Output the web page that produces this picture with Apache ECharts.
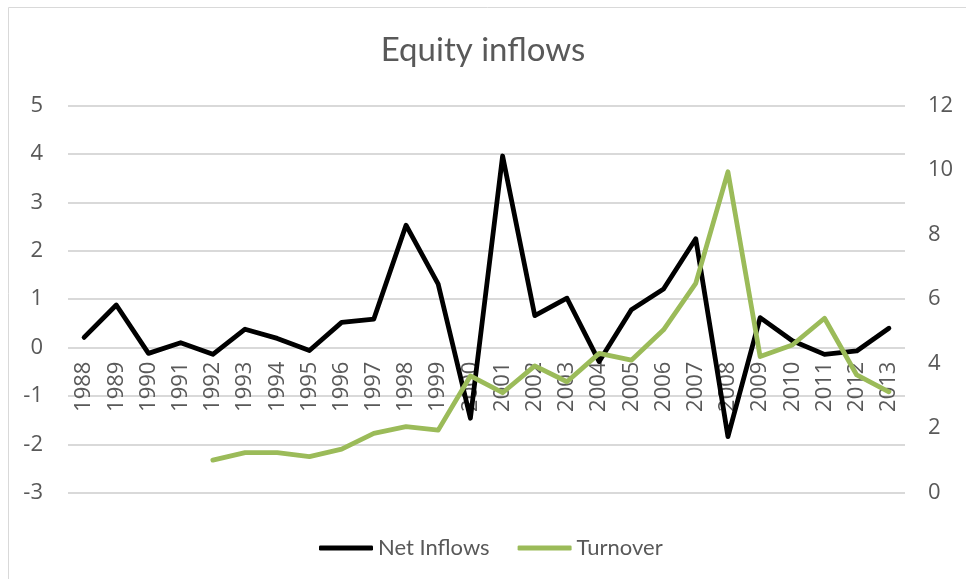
<!DOCTYPE html>
<html>
<head>
<meta charset="utf-8">
<title>Equity inflows</title>
<script src="https://cdn.jsdelivr.net/npm/echarts@6/dist/echarts.min.js"></script>
<style>
  html, body { margin: 0; padding: 0; background: #fff; }
  #chart { width: 966px; height: 579px; }
</style>
</head>
<body>
<div id="chart"></div>
<script>
  // 数据
  var years = ['1988', '1989', '1990', '1991', '1992', '1993', '1994', '1995', '1996', '1997',
    '1998', '1999', '2000', '2001', '2002', '2003', '2004', '2005', '2006', '2007',
    '2008', '2009', '2010', '2011', '2012', '2013']
  var netInflows = [0.21, 0.88, -0.12, 0.10, -0.14, 0.38, 0.19, -0.06, 0.52, 0.59,
    2.53, 1.31, -1.46, 3.96, 0.66, 1.02, -0.29, 0.78, 1.21, 2.25,
    -1.84, 0.62, 0.14, -0.14, -0.07, 0.40]
  var turnover = [null, null, null, null, 1.01, 1.24, 1.24, 1.12, 1.35, 1.84,
    2.05, 1.94, 3.62, 3.10, 3.93, 3.44, 4.32, 4.11, 5.05, 6.49,
    9.95, 4.22, 4.58, 5.41, 3.65, 3.13]

  var font = 'Lato, "Open Sans", sans-serif'
  var tickFont = '"Open Sans", Lato, sans-serif'
  var grey = '#595959'

  // grid 位置, x 轴标签放在左轴 0 的位置
  var gridTop = 105.7
  var gridBottom = 86.3
  var gridH = 579 - gridTop - gridBottom
  var zeroOffset = -gridH * 3 / 8

  var chart = echarts.init(document.getElementById('chart'))
  chart.setOption({
    animation: false,
    textStyle: { fontFamily: font },
    title: {
      text: 'Equity inflows',
      left: 'center',
      top: 29,
      textStyle: { fontSize: 33, fontWeight: 'normal', color: grey, fontFamily: font }
    },
    // 外框
    graphic: [{
      type: 'rect',
      shape: { x: 8.5, y: 7.5, width: 1000, height: 1000 },
      style: { fill: 'none', stroke: '#d9d9d9', lineWidth: 1 },
      silent: true
    }],
    legend: {
      top: 532,
      left: 314,
      itemWidth: 54,
      itemHeight: 5,
      itemGap: 28,
      icon: 'roundRect',
      textStyle: { fontSize: 22, color: grey, fontFamily: font },
      data: ['Net Inflows', 'Turnover']
    },
    grid: {
      left: 68,
      right: 61,
      top: gridTop,
      bottom: gridBottom
    },
    xAxis: {
      type: 'category',
      data: years,
      boundaryGap: true,
      offset: zeroOffset,
      axisLine: { show: false, onZero: false },
      axisTick: { show: false },
      axisLabel: { rotate: 90, margin: 14, fontSize: 22, color: grey, fontFamily: tickFont, interval: 0 }
    },
    yAxis: [
      {
        type: 'value',
        min: -3,
        max: 5,
        interval: 1,
        axisLine: { show: false },
        axisTick: { show: false },
        axisLabel: { fontSize: 22, color: grey, margin: 25, fontFamily: tickFont },
        splitLine: { lineStyle: { color: '#d9d9d9', width: 2 } }
      },
      {
        type: 'value',
        min: 0,
        max: 12,
        interval: 2,
        position: 'right',
        axisLine: { show: false },
        axisTick: { show: false },
        axisLabel: { fontSize: 22, color: grey, margin: 23, fontFamily: tickFont },
        splitLine: { show: false }
      }
    ],
    series: [
      {
        name: 'Net Inflows',
        type: 'line',
        yAxisIndex: 0,
        data: netInflows,
        symbol: 'none',
        z: 3,
        lineStyle: { color: '#000000', width: 4.8, join: 'round', cap: 'round' },
        itemStyle: { color: '#000000' }
      },
      {
        name: 'Turnover',
        type: 'line',
        yAxisIndex: 1,
        data: turnover,
        symbol: 'none',
        z: 3,
        lineStyle: { color: '#9bbb59', width: 4.8, join: 'round', cap: 'round' },
        itemStyle: { color: '#9bbb59' }
      }
    ]
  })
</script>
</body>
</html>
